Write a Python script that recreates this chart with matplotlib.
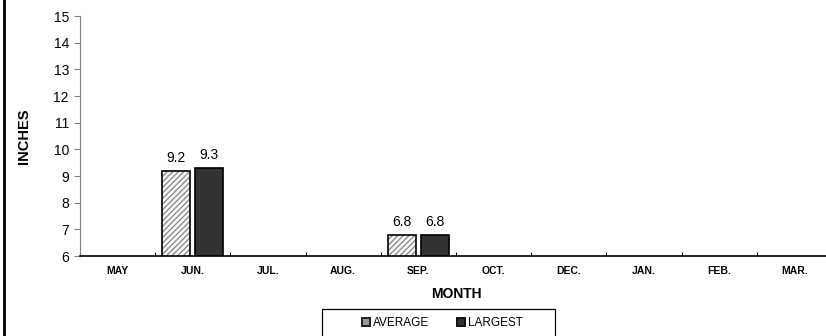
import matplotlib
matplotlib.use("Agg")
import matplotlib.pyplot as plt
from matplotlib.lines import Line2D
from matplotlib.patches import Rectangle
import numpy as np

plt.rcParams['font.family'] = ['Liberation Sans', 'DejaVu Sans']

months = ["MAY", "JUN.", "JUL.", "AUG.", "SEP.", "OCT.", "DEC.", "JAN.", "FEB.", "MAR."]
average = [None, 9.2, None, None, 6.8, None, None, None, None, None]
largest = [None, 9.3, None, None, 6.8, None, None, None, None, None]

fig = plt.figure(figsize=(8.26, 3.36), dpi=100)
ax = fig.add_axes([80 / 826, 80 / 336, 752 / 826, 240 / 336])

x = np.arange(len(months))
w = 0.37
off = 0.22

for i, (a, l) in enumerate(zip(average, largest)):
    if a is not None:
        # hatch in grey, outline drawn separately in black
        ax.bar(x[i] - off, a, w, color="white", edgecolor="#8a8a8a", hatch="//////", linewidth=0)
        ax.bar(x[i] - off, a, w, color="none", edgecolor="black", linewidth=1.2)
        ax.annotate(f"{a:.1f}", (x[i] - off, a), xytext=(0, 4), textcoords="offset points",
                    ha="center", va="bottom", fontsize=10)
    if l is not None:
        ax.bar(x[i] + off, l, w, color="#333333", edgecolor="black", linewidth=1.2)
        ax.annotate(f"{l:.1f}", (x[i] + off, l), xytext=(0, 4), textcoords="offset points",
                    ha="center", va="bottom", fontsize=10)

ax.set_xlim(-0.5, len(months) - 0.5)
ax.set_ylim(6, 15)
ax.set_yticks(range(6, 16))
ax.tick_params(axis="y", labelsize=10, length=4, width=0.8, color="#808080", pad=4)

ax.set_xticks(x)
ax.set_xticklabels(months, fontsize=7.5, fontweight="bold")
ax.tick_params(axis="x", length=0, pad=7)
ax.set_xticks(np.arange(-0.5, len(months), 1), minor=True)
ax.tick_params(axis="x", which="minor", direction="in", length=3, width=0.8)

for s in ["top", "right"]:
    ax.spines[s].set_visible(False)
ax.spines["left"].set_color("#808080")
ax.spines["bottom"].set_linewidth(1.2)

ax.set_xlabel("MONTH", fontsize=10, fontweight="bold", labelpad=8)
ax.set_ylabel("INCHES", fontsize=10.5, fontweight="bold", labelpad=16)

handles = [
    Line2D([], [], marker="s", linestyle="none", markersize=6, markerfacecolor="#9a9a9a",
           markeredgecolor="#222222", markeredgewidth=1.4),
    Line2D([], [], marker="s", linestyle="none", markersize=6, markerfacecolor="#333333",
           markeredgecolor="#111111", markeredgewidth=1.4),
]
fig.legend(handles, ["AVERAGE", "LARGEST"], loc="center",
           bbox_to_anchor=(443 / 826, 1 - 323 / 336), ncol=2, fontsize=8.5,
           frameon=False, handlelength=0.5, handletextpad=0.3, columnspacing=2.5)

# legend box, running off the bottom edge
fig.add_artist(Rectangle((322 / 826, -0.05), 233 / 826, 0.05 + 27 / 336,
                         transform=fig.transFigure, facecolor="none",
                         edgecolor="black", linewidth=0.9))

# border on the left of the figure
fig.add_artist(Line2D([4 / 826, 4 / 826], [0, 1], color="black", linewidth=2))

fig.savefig("out.png", dpi=100)
